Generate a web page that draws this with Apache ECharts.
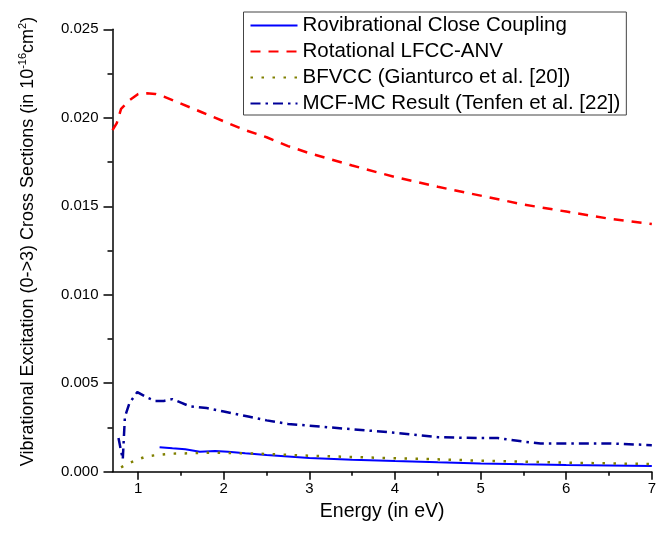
<!DOCTYPE html>
<html>
<head>
<meta charset="utf-8">
<script src="https://cdn.jsdelivr.net/npm/echarts@6/dist/echarts.min.js"></script>
<style>
  html, body { margin: 0; padding: 0; background: #fff; }
  #chart { width: 659px; height: 535px; }
</style>
</head>
<body>
<div id="chart"></div>
<script>
// energy (eV) and cross sections (1e-16 cm^2)
const rovibE = [1.25, 1.4, 1.55, 1.72, 1.9, 2.05, 2.25, 2.5, 3.0, 3.5, 4.0, 4.5, 5.0, 5.5, 6.0, 6.5, 7.0];
const rovibY = [0.00138, 0.00132, 0.00127, 0.00113, 0.00117, 0.00113, 0.00104, 0.00094, 0.00078, 0.00068, 0.0006, 0.00053, 0.00047, 0.00042, 0.00038, 0.00035, 0.00032];

const rotE = [0.7, 0.75, 0.8, 0.9, 1.0, 1.1, 1.2, 1.3, 1.5, 1.75, 2.0, 2.25, 2.5, 2.75, 3.0, 3.5, 4.0, 4.5, 5.0, 5.5, 6.0, 6.5, 7.0];
const rotY = [0.0193, 0.0197, 0.0205, 0.0210, 0.02135, 0.02138, 0.02135, 0.0212, 0.0208, 0.0203, 0.0198, 0.0193, 0.0189, 0.0184, 0.0180, 0.0173, 0.01665, 0.0161, 0.0156, 0.0151, 0.0147, 0.0143, 0.0140];

const bfvccE = [0.8, 0.9, 1.0, 1.1, 1.2, 1.4, 1.6, 1.8, 2.0, 2.5, 3.0, 3.5, 4.0, 4.5, 5.0, 5.5, 6.0, 6.5, 7.0];
const bfvccY = [0.00025, 0.0005, 0.0007, 0.00087, 0.00093, 0.00102, 0.00104, 0.00107, 0.00107, 0.001, 0.0009, 0.00083, 0.00076, 0.0007, 0.00062, 0.00057, 0.00051, 0.00047, 0.00043];

const mcfE = [0.77, 0.82, 0.845, 0.9, 0.99, 1.1, 1.2, 1.3, 1.4, 1.5, 1.6, 1.8, 2.0, 2.1, 2.3, 2.5, 2.75, 3.0, 3.5, 4.0, 4.2, 4.5, 5.0, 5.2, 5.5, 5.7, 6.0, 6.2, 6.5, 7.0];
const mcfY = [0.0019, 0.0007, 0.0031, 0.0039, 0.0045, 0.0042, 0.0040, 0.0040, 0.0041, 0.0039, 0.0037, 0.0036, 0.0034, 0.0033, 0.0031, 0.0029, 0.0027, 0.0026, 0.0024, 0.0022, 0.0021, 0.00195, 0.0019, 0.0019, 0.0017, 0.0016, 0.0016, 0.0016, 0.0016, 0.0015];

const xTicks = [1, 2, 3, 4, 5, 6, 7];
const xMinorTicks = [1.5, 2.5, 3.5, 4.5, 5.5, 6.5];

const names = [
    'Rovibrational Close Coupling',
    'Rotational LFCC-ANV',
    'BFVCC (Gianturco et al. [20])',
    'MCF-MC Result (Tenfen et al. [22])'
];

const pairs = (xs, ys) => xs.map((x, i) => [x, ys[i]]);

const font = 'Liberation Sans, Arial, sans-serif';
const black = '#000';

const myChart = echarts.init(document.getElementById('chart'));

const option = {
    animation: false,
    backgroundColor: '#fff',
    textStyle: { fontFamily: font, color: black },
    grid: { left: 112.5, right: 5, top: 29.3, bottom: 63.3 },
    legend: {
        orient: 'vertical',
        left: 243.5,
        top: 12,
        padding: [3, 6, 1, 6],
        itemWidth: 47,
        itemHeight: 14,
        itemGap: 5,
        borderColor: '#444',
        borderWidth: 1,
        itemStyle: { opacity: 0 },
        textStyle: { fontFamily: font, fontSize: 20.5, color: black },
        data: names
    },
    xAxis: [
        {
            type: 'value',
            position: 'bottom',
            min: 0.7,
            max: 7,
            name: 'Energy (in eV)',
            nameLocation: 'middle',
            nameGap: 28,
            nameTextStyle: { fontFamily: font, fontSize: 19.5, color: black },
            axisLine: { lineStyle: { color: black, width: 1.5 } },
            axisTick: { customValues: xTicks, length: 8, lineStyle: { color: black, width: 1.5 } },
            axisLabel: { customValues: xTicks, margin: 10, fontSize: 15, color: black, fontFamily: font },
            splitLine: { show: false }
        },
        {
            type: 'value',
            position: 'bottom',
            min: 0.7,
            max: 7,
            axisLine: { show: false },
            axisTick: { customValues: xMinorTicks, length: 4, lineStyle: { color: black, width: 1.5 } },
            axisLabel: { show: false },
            splitLine: { show: false }
        }
    ],
    yAxis: {
        type: 'value',
        min: 0,
        max: 0.025,
        interval: 0.005,
        name: '{a|Vibrational Excitation (0->3) Cross Sections (in 10}{s|-16}{a|cm}{s|2}{a|)}',
        nameLocation: 'middle',
        nameGap: 73,
        nameTextStyle: {
            padding: [0, 0, 0, 18],
            rich: {
                a: { fontFamily: font, fontSize: 18, color: black, lineHeight: 22 },
                s: { fontFamily: font, fontSize: 11, color: black, lineHeight: 11, verticalAlign: 'top' }
            }
        },
        axisLine: { show: true, lineStyle: { color: black, width: 1.5 } },
        axisTick: { show: true, length: 9, lineStyle: { color: black, width: 1.5 } },
        minorTick: { show: true, splitNumber: 2, length: 5, lineStyle: { color: black, width: 1.5 } },
        axisLabel: {
            margin: 14,
            fontSize: 15,
            color: black,
            fontFamily: font,
            formatter: (v) => v.toFixed(3)
        },
        splitLine: { show: false }
    },
    series: [
        {
            name: names[0],
            type: 'line',
            data: pairs(rovibE, rovibY),
            symbol: 'none',
            lineStyle: { color: '#0000ff', width: 2 },
            itemStyle: { color: '#0000ff' }
        },
        {
            name: names[1],
            type: 'line',
            data: pairs(rotE, rotY),
            symbol: 'none',
            lineStyle: { color: '#ff0000', width: 2.5, type: [10, 8] },
            itemStyle: { color: '#ff0000' }
        },
        {
            name: names[2],
            type: 'line',
            data: pairs(bfvccE, bfvccY),
            symbol: 'none',
            lineStyle: { color: '#808000', width: 2.5, type: [2.5, 8.5] },
            itemStyle: { color: '#808000' }
        },
        {
            name: names[3],
            type: 'line',
            data: pairs(mcfE, mcfY),
            symbol: 'none',
            lineStyle: { color: '#000099', width: 2.5, type: [10, 5, 2.5, 5] },
            itemStyle: { color: '#000099' }
        }
    ]
};

myChart.setOption(option);
</script>
</body>
</html>
